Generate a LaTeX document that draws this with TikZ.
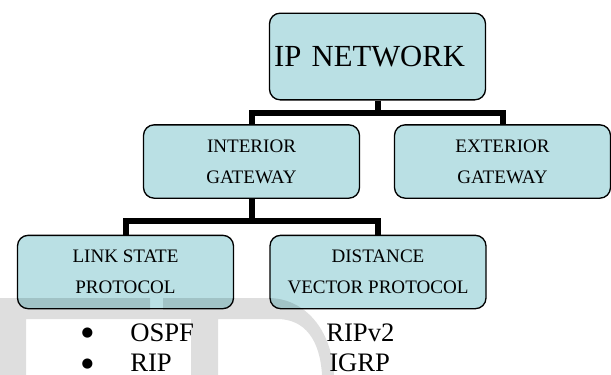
\documentclass[tikz,border=0pt]{standalone}
\usepackage{fontspec}
\setmainfont{Liberation Serif}
\newfontfamily\symfont{DejaVu Sans}
\definecolor{boxfill}{RGB}{186,224,228}
\begin{document}
\begin{tikzpicture}[x=0.75pt,y=-0.75pt,
    box/.style={draw=black,line width=1pt,fill=boxfill,rounded corners=8pt,
        minimum width=162pt,minimum height=55pt,align=center,
        font=\fontsize{14.3}{23}\selectfont},
    link/.style={line width=4.5pt},
    item/.style={inner sep=0pt,font=\fontsize{20}{24}\selectfont},
    dot/.style={inner sep=0pt,font=\symfont\fontsize{10}{12}\selectfont}]
\useasboundingbox (0,0) rectangle (611,375);

% boxes
\node[box,minimum height=65pt,text width=155pt,align=left,
    font=\fontsize{23}{28}\selectfont] (ip) at (377.5,56.5) {\raisebox{-4pt}{IP NETWORK}};
\node[box] (interior) at (251.5,161.5) {INTERIOR\\GATEWAY};
\node[box] (exterior) at (502.5,161.5) {EXTERIOR\\GATEWAY};
\node[box] (linkstate) at (125.5,272) {LINK STATE\\PROTOCOL};
\node[box] (distance) at (378,272) {DISTANCE\\VECTOR PROTOCOL};

% tree lines
\draw[link] (ip.south) -- ++(0,12) -| (interior.north);
\draw[link] (ip.south) -- ++(0,12) -| (exterior.north);
\draw[link] (interior.south) -- ++(0,22) -| (linkstate.north);
\draw[link] (interior.south) -- ++(0,22) -| (distance.north);

% protocols
\node[dot] (dot1) at (87.5,333) {●};
\node[dot] (dot2) at (87.5,364) {●};
\node[item,anchor=base west] (ospf) at (130,341) {OSPF};
\node[item,anchor=base west] (rip) at (130,371) {RIP};
\node[item,anchor=base west] (ripv2) at (326,341) {RIPv2};
\node[item,anchor=base west] (igrp) at (329,371) {IGRP};

% watermark
\fill[black,fill opacity=0.13] (0,298) -- (150,298) -- (150,310) -- (163,310)
    -- (163,298) -- (268,298) .. controls (305,298) and (332,330) .. (334,375)
    -- (322,375) .. controls (320,340) and (305,319) .. (277,319)
    -- (218,319) -- (218,375) -- (191,375) -- (191,319) -- (26,319)
    -- (26,375) -- (0,375) -- cycle;
\end{tikzpicture}
\end{document}
